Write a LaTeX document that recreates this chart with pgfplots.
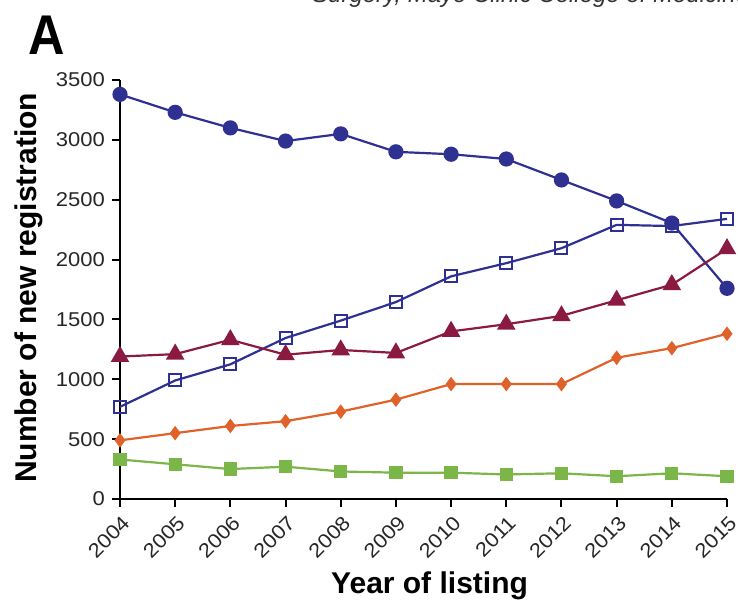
\documentclass[border=0pt]{standalone}
\usepackage{graphicx}
\usepackage{pgfplots}
\pgfplotsset{compat=1.18}
\usepackage{fontspec}
\setmainfont{Liberation Sans}
\definecolor{cblue}{HTML}{2E3192}
\definecolor{cmaroon}{HTML}{8B1A42}
\definecolor{corange}{HTML}{E0612A}
\definecolor{cgreen}{HTML}{7AB648}
\begin{document}
\begin{tikzpicture}[x=1pt,y=1pt]
\useasboundingbox (-120,-101) rectangle (618,499);
\begin{axis}[
  at={(0,0)}, anchor=origin,
  scale only axis, width=607pt, height=419pt,
  xmin=2004, xmax=2015, ymin=0, ymax=3500,
  clip=false,
  axis x line*=bottom, axis y line*=left,
  axis line style={line width=2.2pt, black, -},
  xtick={2004,...,2015}, ytick={0,500,...,3500},
  tick style={line width=2pt, black},
  tick align=outside, major tick length=8pt,
  /pgf/number format/assume math mode=true,
  /pgf/number format/1000 sep={},
  xticklabel={\scalebox{1.1}[1]{\pgfmathprintnumber{\tick}}},
  yticklabel={\scalebox{1.1}[1]{\pgfmathprintnumber{\tick}}},
  x tick label style={xshift=1pt, yshift=-6pt, rotate=45, anchor=north east, font=\fontsize{20}{20}\selectfont, inner sep=1pt, text=black!85},
  y tick label style={xshift=-5pt, font=\fontsize{20}{20}\selectfont, inner sep=2pt, text=black!85},
  ylabel={\textbf{Number of new registration}},
  ylabel style={font=\fontsize{30}{30}\selectfont, at={(axis description cs:0,0.504)}, anchor=base, yshift=83pt},
  xlabel={\textbf{Year of listing}},
  xlabel style={font=\fontsize{30}{30}\selectfont, at={(axis description cs:0.51,0)}, anchor=base, yshift=-94pt},
  every axis plot/.append style={line width=2.2pt},
]
\addplot[cblue, mark=*, mark size=6.5pt] coordinates {
(2004,3380)(2005,3230)(2006,3100)(2007,2990)(2008,3050)(2009,2900)
(2010,2880)(2011,2840)(2012,2665)(2013,2490)(2014,2305)(2015,1760)};
\addplot[cblue, mark=square, mark size=6pt, mark options={line width=2pt, fill=white}] coordinates {
(2004,770)(2005,990)(2006,1125)(2007,1345)(2008,1490)(2009,1645)
(2010,1860)(2011,1970)(2012,2095)(2013,2290)(2014,2280)(2015,2340)};
\addplot[cmaroon, mark=triangle*, mark size=8.5pt] coordinates {
(2004,1190)(2005,1210)(2006,1330)(2007,1205)(2008,1245)(2009,1220)
(2010,1400)(2011,1460)(2012,1530)(2013,1660)(2014,1790)(2015,2090)};
\addplot[corange, mark=diamond*, mark size=5.5pt] coordinates {
(2004,490)(2005,550)(2006,610)(2007,650)(2008,730)(2009,830)
(2010,960)(2011,960)(2012,960)(2013,1180)(2014,1260)(2015,1380)};
\addplot[cgreen, mark=square*, mark size=5.5pt] coordinates {
(2004,330)(2005,290)(2006,250)(2007,270)(2008,230)(2009,220)
(2010,220)(2011,205)(2012,215)(2013,190)(2014,215)(2015,190)};
\end{axis}
\node[font=\fontsize{56}{56}\selectfont\bfseries, anchor=base west, inner sep=0pt] at (-92,444) {\scalebox{0.9}[1]{A}};
\node[font=\fontsize{24}{24}\selectfont\itshape, text=black!80, anchor=base west, inner sep=0pt] at (192,496) {Surgery, Mayo Clinic College of Medicine};
\end{tikzpicture}
\end{document}
